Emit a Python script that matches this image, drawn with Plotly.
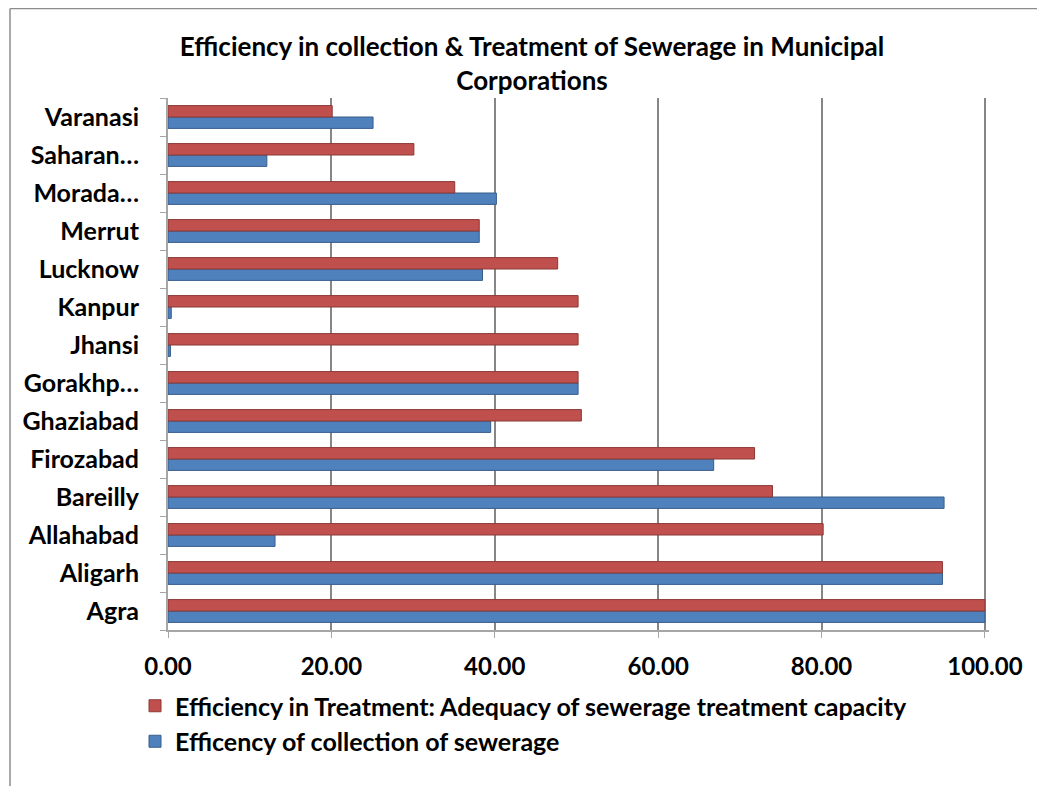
import plotly.graph_objects as go

categories = ["Agra", "Aligarh", "Allahabad", "Bareilly", "Firozabad", "Ghaziabad",
              "Gorakhp…", "Jhansi", "Kanpur", "Lucknow", "Merrut", "Morada…",
              "Saharan…", "Varanasi"]
treatment = [100.0, 94.8, 80.2, 74.0, 71.8, 50.6, 50.2, 50.2, 50.2, 47.7, 38.1, 35.1, 30.1, 20.1]
collection = [100.0, 94.8, 13.1, 95.0, 66.8, 39.5, 50.2, 0.3, 0.4, 38.5, 38.1, 40.2, 12.1, 25.1]
x_ticks = [0, 20, 40, 60, 80, 100]
x_tick_labels = ["0.00", "20.00", "40.00", "60.00", "80.00", "100.00"]

title_text = "Efficiency in collection & Treatment of Sewerage in Municipal<br>Corporations"
name_treat = "Efficiency in Treatment: Adequacy of sewerage treatment capacity"
name_coll = "Efficency of collection of sewerage"

FONT = "Lato"
OFF = 8  # default page body margin
W, H = 1045 - OFF, 786 - OFF
ML, MR, MT, MB = 160, 56, 90, 156
PW, PH = W - ML - MR, H - MT - MB


def px_x(p):  # page pixel -> paper x
    return (p - OFF - ML) / PW


def px_y(p):  # page pixel -> paper y
    return (MT + PH - (p - OFF)) / PH


fig = go.Figure()
fig.add_trace(go.Bar(
    y=categories, x=collection, orientation="h", name="<b>" + name_coll + "</b>",
    marker=dict(color="#4F81BD", line=dict(color="#385D8A", width=1)),
))
fig.add_trace(go.Bar(
    y=categories, x=treatment, orientation="h", name="<b>" + name_treat + "</b>",
    marker=dict(color="#C0504D", line=dict(color="#8C3836", width=1)),
))

fig.update_layout(
    width=W, height=H,
    paper_bgcolor="white", plot_bgcolor="white",
    barmode="group", bargap=0.40, bargroupgap=0.0,
    margin=dict(l=ML, r=MR, t=MT, b=MB, autoexpand=False),
    font=dict(family=FONT, color="black", size=24),
    title=dict(text="<b>" + title_text + "</b>", x=(532 - OFF) / W, xanchor="center",
               xref="container", y=1 - 48 / H, yanchor="top", yref="container",
               font=dict(family=FONT, size=26, color="black")),
    xaxis=dict(range=[0, 100.5], tickvals=x_ticks, ticktext=["<b>" + t + "</b>" for t in x_tick_labels],
               showgrid=True, gridcolor="#868686", gridwidth=1.5,
               showline=True, linecolor="#A6A6A6", linewidth=2,
               ticks="outside", ticklen=6, tickcolor="#A6A6A6",
               ticklabelstandoff=8, zeroline=False, automargin=False,
               tickfont=dict(family=FONT, size=24)),
    yaxis=dict(categoryorder="array", categoryarray=categories,
               tickvals=categories, ticktext=["<b>" + c + "</b>" for c in categories],
               showline=True, linecolor="#A6A6A6", linewidth=2,
               ticks="outside", ticklen=6, tickcolor="#A6A6A6", tickson="boundaries",
               ticklabelstandoff=22, automargin=False,
               tickfont=dict(family=FONT, size=25)),
    legend=dict(x=px_x(135), xanchor="left", y=px_y(683), yanchor="top",
                orientation="v", traceorder="reversed",
                font=dict(family=FONT, size=25), itemwidth=30,
                tracegroupgap=0, bgcolor="rgba(0,0,0,0)"),
    showlegend=True,
)

# outer chart border (left and top edges)
fig.add_shape(type="line", xref="paper", yref="paper",
              x0=px_x(10), x1=px_x(10), y0=px_y(800), y1=px_y(8.5),
              line=dict(color="#8C8C8C", width=1.5))
fig.add_shape(type="line", xref="paper", yref="paper",
              x0=px_x(10), x1=px_x(1045), y0=px_y(8.5), y1=px_y(8.5),
              line=dict(color="#8C8C8C", width=1.5))

fig.write_html("out.html")
